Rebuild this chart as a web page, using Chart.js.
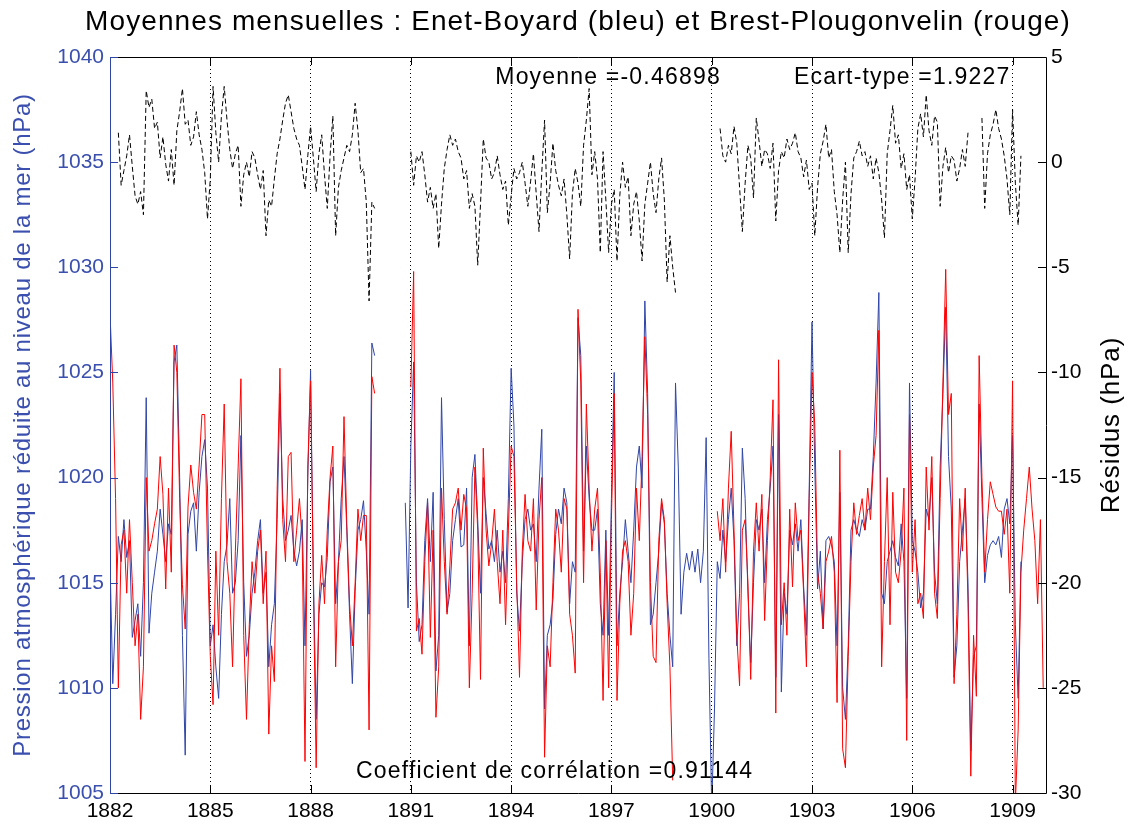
<html><head>
<title>Moyennes mensuelles Enet-Boyard / Brest-Plougonvelin</title>
<style>
  body { margin: 0; background: #fff; }
  #wrap { width: 1133px; height: 830px; }
</style>
<script src="https://cdn.jsdelivr.net/npm/chart.js"></script>
</head>
<body>
<div id="wrap"><canvas id="chart" width="1133" height="830"></canvas></div>
<script>
// monthly values, Jan 1882 .. Dec 1909 (12 per line), null = missing
const firstYear = 1882;
const xTicks = [1882, 1885, 1888, 1891, 1894, 1897, 1900, 1903, 1906, 1909];
const leftTicks = [1005, 1010, 1015, 1020, 1025, 1030, 1035, 1040];
const rightTicks = [-30, -25, -20, -15, -10, -5, 0, 5];

const N = null;
// Enet-Boyard (bleu), hPa
const enetBoyard = [
  1016.0, 1010.2, 1013.5, 1017.2, 1016.0, 1018.0, 1016.2, 1017.0, 1012.4, 1013.2, 1014.0, 1011.5,
  1015.0, 1023.8, 1012.6, 1014.5, 1015.5, 1016.5, 1018.5, 1017.3, 1016.0, 1017.8, 1017.3, 1025.5,
  1026.3, 1020.0, 1012.5, 1006.8, 1017.3, 1018.4, 1018.8, 1016.5, 1019.3, 1021.0, 1021.8, 1019.5,
  1012.0, 1013.0, 1011.0, 1009.5, 1013.5, 1016.0, 1016.8, 1019.0, 1014.5, 1015.0, 1017.0, 1022.0,
  1015.0, 1011.5, 1012.5, 1014.5, 1015.5, 1017.0, 1018.0, 1014.5, 1015.5, 1011.0, 1013.0, 1014.0,
  1018.0, 1024.0, 1019.0, 1017.0, 1017.5, 1018.2, 1016.5, 1015.8, 1016.5, 1018.0, 1012.0, 1020.0,
  1025.1, 1015.5, 1008.5, 1013.5, 1015.0, 1014.8, 1016.2, 1019.8, 1020.5, 1014.0, 1016.0, 1019.0,
  1021.0, 1017.5, 1013.5, 1010.2, 1014.6, 1017.5, 1018.0, 1018.9, 1016.5, 1013.5, 1026.4, 1025.8,
  N, N, N, N, N, N, N, N, N, N, 1018.8, 1013.8,
  1021.5, 1025.5, 1015.0, 1012.2, 1013.0, 1017.0, 1019.0, 1016.0, 1019.3, 1010.8, 1012.5, 1023.8,
  1018.0, 1013.6, 1014.5, 1017.0, 1018.0, 1019.0, 1016.7, 1016.8, 1019.5, 1012.0, 1020.0, 1021.1,
  1018.0, 1014.5, 1020.0, 1018.3, 1016.6, 1017.0, 1016.0, 1017.5, 1015.5, 1016.5, 1015.0, 1019.0,
  1025.2, 1022.5, 1014.5, 1012.7, 1016.0, 1018.0, 1018.5, 1017.5, 1017.8, 1016.0, 1019.5, 1022.3,
  1009.0, 1012.5, 1013.0, 1014.2, 1017.3, 1018.5, 1017.8, 1019.5, 1018.8, 1014.0, 1016.0, 1015.5,
  1027.6, 1025.8, 1016.5, 1021.5, 1019.0, 1017.5, 1017.5, 1018.5, 1014.0, 1012.5, 1017.5, 1012.5,
  1019.0, 1025.0, 1012.0, 1014.5, 1016.0, 1018.0, 1016.5, 1015.0, 1017.5, 1020.5, 1021.5, 1019.5,
  1028.4, 1024.0, 1013.0, 1013.5, 1015.0, 1016.5, 1018.8, 1017.8, 1014.5, 1012.5, 1011.0, 1024.5,
  1020.5, 1013.5, 1015.5, 1016.4, 1015.6, 1016.5, 1015.5, 1016.6, 1015.0, 1016.5, 1021.9, 1011.4,
  1004.3, 1009.0, 1016.0, 1015.2, 1017.5, 1016.0, 1018.0, 1019.5, 1017.0, 1012.0, 1014.5, 1021.4,
  1019.0, 1014.5, 1011.2, 1015.0, 1018.0, 1017.5, 1018.5, 1015.0, 1018.0, 1019.5, 1021.5, 1010.5,
  1023.0, 1009.8, 1014.5, 1013.5, 1017.5, 1016.8, 1017.8, 1016.5, 1018.0, 1014.8, 1012.5, 1019.5,
  1027.4, 1020.5, 1014.7, 1016.5, 1012.8, 1017.0, 1017.2, 1016.8, 1016.0, 1012.0, 1019.3, 1010.0,
  1008.5, 1012.0, 1017.5, 1018.0, 1017.5, 1017.2, 1018.0, 1017.5, 1018.5, 1018.5, 1021.0, 1024.5,
  1028.8, 1014.5, 1014.0, 1016.0, 1016.5, 1017.0, 1016.2, 1015.8, 1017.8, 1016.0, 1009.5, 1024.5,
  1017.0, 1016.5, 1015.5, 1013.8, 1014.5, 1018.5, 1018.0, 1020.0, 1015.5, 1014.0, 1020.5, 1024.0,
  1028.1, 1021.0, 1018.5, 1010.5, 1012.0, 1016.0, 1017.5, 1019.0, 1015.0, 1007.0, 1011.5, 1012.0,
  1023.5, 1019.0, 1015.0, 1016.3, 1016.8, 1017.0, 1016.8, 1017.2, 1016.2, 1018.5, 1019.0, 1017.8,
  1022.0, 1013.0, 1009.5, 1016.0, N, N, N, N, N, N, N, N
];

// Brest-Plougonvelin (rouge), hPa
const brest = [
  1027.8, 1024.5, 1019.0, 1010.0, 1016.8, 1017.5, 1014.5, 1018.0, 1015.0, 1012.0, 1013.5, 1008.5,
  1011.0, 1020.0, 1016.5, 1017.0, 1017.8, 1018.5, 1021.0, 1019.2, 1014.7, 1019.5, 1015.5, 1026.3,
  1025.0, 1019.0, 1014.9, 1012.8, 1018.6, 1020.6, 1019.3, 1018.5, 1020.6, 1023.0, 1023.0, 1016.5,
  1011.5, 1009.2, 1016.5, 1012.5, 1019.0, 1023.5, 1016.0, 1014.5, 1011.0, 1016.5, 1020.5, 1024.7,
  1012.5, 1008.5, 1013.0, 1016.0, 1014.5, 1016.5, 1017.5, 1014.0, 1016.5, 1007.8, 1012.0, 1010.3,
  1019.4, 1025.2, 1018.0, 1016.0, 1021.0, 1021.2, 1016.0, 1017.5, 1019.0, 1017.0, 1006.5, 1020.5,
  1024.6, 1015.0, 1006.2, 1014.0, 1016.3, 1014.0, 1017.5, 1020.0, 1021.5, 1011.0, 1016.0, 1017.0,
  1022.9, 1017.8, 1014.0, 1012.0, 1015.0, 1018.5, 1017.0, 1018.2, 1018.2, 1008.0, 1024.8, 1024.0,
  N, N, N, N, N, N, N, N, N, N, N, N,
  1024.3, 1029.8, 1012.7, 1013.3, 1011.6, 1016.0, 1018.8, 1012.4, 1017.5, 1008.6, 1011.0, 1019.5,
  1016.0, 1013.5, 1015.8, 1018.5, 1018.8, 1019.5, 1017.5, 1019.2, 1018.5, 1010.0, 1014.5, 1020.5,
  1017.5, 1010.4, 1021.4, 1017.5, 1015.8, 1016.9, 1018.5, 1016.0, 1014.0, 1017.5, 1013.0, 1017.5,
  1021.5, 1021.0, 1015.0, 1010.5, 1016.5, 1019.2, 1017.0, 1016.5, 1019.0, 1013.7, 1018.0, 1020.0,
  1006.7, 1012.0, 1011.0, 1015.0, 1018.5, 1017.5, 1015.5, 1019.0, 1018.5, 1013.5, 1012.5, 1010.7,
  1028.0, 1024.5, 1015.0, 1023.5, 1019.5, 1016.5, 1018.5, 1019.5, 1015.5, 1009.4, 1017.0, 1010.0,
  1018.0, 1024.0, 1009.4, 1014.0, 1016.5, 1017.0, 1016.0, 1012.5, 1014.5, 1019.5, 1017.0, 1021.0,
  1026.7, 1023.0, 1015.0, 1011.5, 1011.2, 1017.0, 1019.0, 1018.0, 1014.0, 1011.0, 1005.6, N,
  N, N, N, N, N, N, N, N, N, N, N, N,
  N, N, 1018.4, 1017.0, 1019.0, 1015.5, 1019.5, 1022.2, 1017.5, 1012.5, 1010.1, 1017.5,
  1018.0, 1015.0, 1010.4, 1016.5, 1018.8, 1016.5, 1019.2, 1013.2, 1017.0, 1020.0, 1023.7, 1008.8,
  1025.6, 1013.0, 1015.0, 1012.5, 1018.5, 1014.8, 1018.8, 1017.0, 1017.5, 1014.5, 1011.0, 1019.0,
  1025.0, 1022.5, 1015.5, 1014.5, 1012.8, 1016.0, 1016.5, 1017.2, 1015.5, 1009.3, 1021.3, 1007.1,
  1006.2, 1011.5, 1016.0, 1018.8, 1017.3, 1018.2, 1019.0, 1017.5, 1019.5, 1018.0, 1020.5, 1022.0,
  1027.0, 1011.0, 1016.0, 1020.0, 1013.0, 1019.3, 1015.5, 1015.0, 1016.5, 1019.5, 1007.5, 1023.0,
  1015.5, 1018.0, 1014.0, 1014.5, 1013.3, 1020.5, 1017.5, 1021.0, 1014.5, 1013.3, 1019.0, 1024.5,
  1029.9, 1023.0, 1024.0, 1010.2, 1013.5, 1019.0, 1016.5, 1019.5, 1014.0, 1005.8, 1012.5, 1009.6,
  1025.8, 1020.0, 1015.5, 1018.0, 1019.8, 1019.2, 1018.6, 1018.4, 1018.4, 1017.3, 1018.5, 1014.5,
  1024.6, 1004.5, 1008.0, 1015.5, 1017.5, 1019.0, 1020.5, 1018.5, 1017.0, 1014.0, 1018.0, 1010.0
];

// residus (noir, tirets), hPa, axe de droite
const residus = [
  N, N, N, 1.4, -1.1, -0.4, 0.3, 1.3, -0.2, -1.6, -2.0, -1.4,
  -2.5, 3.4, 2.6, 3.0, 1.6, 1.9, 0.2, 1.2, -0.1, -0.9, 0.6, -1.1,
  1.5, 2.4, 3.5, 1.8, 2.0, 0.8, 1.2, 2.4, 1.3, 0.6, -0.5, -2.7,
  -0.8, 3.6, 1.4, 0.0, 2.2, 3.6, 2.0, 0.6, -0.3, 0.4, 0.8, -2.1,
  -0.6, 0.0, -0.7, 0.5, 0.2, -0.6, -1.3, -0.4, -3.5, -1.8, -2.1, -0.8,
  0.4, 1.1, 2.0, 2.8, 3.2, 2.4, 1.6, 1.1, 0.8, -0.2, -1.3, 0.3,
  1.7, 0.2, -1.4, 0.4, 1.3, -0.6, -2.2, 0.3, 2.2, -3.5, -1.2, -0.4,
  0.2, 0.8, 0.5, 1.3, 2.8, 1.5, -0.5, -0.3, -1.9, -6.6, -1.9, -2.2,
  N, N, N, N, N, N, N, N, N, N, N, N,
  0.5, -1.1, 0.3, 0.0, 0.5, -0.6, -1.9, -1.2, -2.2, -1.5, -4.1, -2.0,
  -0.3, 0.6, 1.3, 0.8, 1.1, 0.5, 0.2, -0.8, -0.4, -2.2, -1.5, -2.1,
  -4.9, -2.0, 1.1, 0.2, 0.0, -0.8, -0.5, 0.3, -0.6, -1.3, -0.9, -3.0,
  -1.6, -0.3, -0.8, -0.5, 0.0, -1.0, -2.1, -0.9, 0.4, -1.5, -3.3, -0.5,
  2.0, -2.4, -1.0, 0.9, -0.4, -1.1, -1.6, -0.8, -2.5, -4.6, -1.5, -0.3,
  -1.0, -2.1, 0.8, 2.0, 3.5, -0.6, 0.5, -0.8, -4.3, 0.5, -1.8, -4.3,
  -2.0, -1.3, -4.7, -1.6, 0.0, -1.2, -0.7, -3.5, -2.0, -1.4, -2.8, -4.7,
  -2.0, -1.0, 0.0, -1.5, -2.4, -0.8, 0.2, -1.8, -5.7, -3.5, -5.0, -6.2,
  N, N, N, N, N, N, N, N, N, N, N, N,
  N, N, N, 1.6, 0.3, 0.0, 0.8, 0.4, 1.7, 0.9, -1.2, -3.3,
  -1.0, 0.8, 0.2, -1.7, 2.1, 1.0, -0.2, 0.6, 0.4, -0.3, 0.9, -2.8,
  -0.4, 0.5, 0.2, 1.1, 0.6, 0.9, 1.4, 0.5, 0.2, -0.7, 0.1, -1.3,
  -1.0, -3.5, -1.2, 0.4, 1.0, 1.8, 0.2, 0.6, -1.4, -2.5, -4.3, -1.8,
  0.0, -4.3, -1.5, 0.2, 0.5, 1.0, 0.3, 0.5, -0.2, 0.3, -0.8, 0.2,
  -0.5, -1.8, -3.6, 0.4, 1.5, 2.7, 0.9, 1.3, -0.3, 0.4, -1.3, -0.6,
  -2.7, -0.8, 1.6, 2.3, 1.2, 3.2, 1.5, 0.8, 2.2, 1.9, -2.1, -0.2,
  0.7, -0.5, 0.3, 0.1, -0.9, -0.3, 0.6, -0.2, 1.4, N, N, N,
  N, 2.1, -2.2, 0.4, 1.3, 1.8, 2.5, 1.6, 1.1, 0.3, -0.8, -2.5,
  2.5, -1.0, -3.0, 0.3, N, N, N, N, N, N, N, N
];

const titleText = 'Moyennes mensuelles : Enet-Boyard (bleu) et Brest-Plougonvelin (rouge)';
const leftTitle = 'Pression atmosphérique réduite au niveau de la mer (hPa)';
const rightTitle = 'Résidus (hPa)';
// statistics printed inside the plot, placed in data coordinates
const notes = [
  { text: 'Moyenne =-0.46898', x: 1896.9, y: 4.0, axis: 'y2' },
  { text: 'Ecart-type =1.9227', x: 1905.7, y: 4.0, axis: 'y2' },
  { text: 'Coefficient de corrélation =0.91144', x: 1895.3, y: 1006.0, axis: 'y' }
];

const BLUE = '#2f45a8';
const BLUE_TEXT = '#3a4fae';
const FONT = '"Liberation Sans", Arial, Helvetica, sans-serif';

function monthly(values) {
  return values.map((v, i) => ({ x: firstYear + i / 12, y: v }));
}

function spaced(ctx, px) {
  if ('letterSpacing' in ctx) ctx.letterSpacing = px + 'px';
}

// frame, inward ticks, titles and the printed statistics
const decorations = {
  id: 'decorations',
  afterDraw(chart) {
    const { ctx, chartArea: a, scales } = chart;
    const tick = 8;
    ctx.save();

    ctx.lineWidth = 1;
    ctx.strokeStyle = '#000';
    ctx.beginPath();
    ctx.moveTo(a.left, a.top + 0.5); ctx.lineTo(a.right + 0.5, a.top + 0.5);
    ctx.lineTo(a.right + 0.5, a.bottom + 0.5); ctx.lineTo(a.left, a.bottom + 0.5);
    xTicks.forEach(v => {
      const x = Math.round(scales.x.getPixelForValue(v)) + 0.5;
      ctx.moveTo(x, a.bottom); ctx.lineTo(x, a.bottom - tick);
      ctx.moveTo(x, a.top); ctx.lineTo(x, a.top + tick);
    });
    rightTicks.forEach(v => {
      const y = Math.round(scales.y2.getPixelForValue(v)) + 0.5;
      ctx.moveTo(a.right, y); ctx.lineTo(a.right - tick, y);
    });
    ctx.stroke();

    ctx.strokeStyle = BLUE;
    ctx.beginPath();
    ctx.moveTo(a.left + 0.5, a.top); ctx.lineTo(a.left + 0.5, a.bottom);
    leftTicks.forEach(v => {
      const y = Math.round(scales.y.getPixelForValue(v)) + 0.5;
      ctx.moveTo(a.left, y); ctx.lineTo(a.left + tick, y);
    });
    ctx.stroke();

    ctx.textAlign = 'center';
    ctx.textBaseline = 'middle';
    ctx.fillStyle = '#000';
    ctx.font = '28px ' + FONT;
    spaced(ctx, 1.1);
    ctx.fillText(titleText, (a.left + a.right) / 2, 22);

    ctx.font = '23px ' + FONT;
    spaced(ctx, 1.2);
    notes.forEach(n => {
      ctx.fillText(n.text, scales.x.getPixelForValue(n.x), scales[n.axis].getPixelForValue(n.y));
    });

    const midY = (a.top + a.bottom) / 2;
    ctx.font = '26px ' + FONT;
    spaced(ctx, 0.9);
    ctx.save();
    ctx.translate(1112, midY);
    ctx.rotate(-Math.PI / 2);
    ctx.fillText(rightTitle, 0, 0);
    ctx.restore();

    ctx.font = '24px ' + FONT;
    spaced(ctx, 0.75);
    ctx.save();
    ctx.fillStyle = BLUE_TEXT;
    ctx.translate(23, midY);
    ctx.rotate(-Math.PI / 2);
    ctx.fillText(leftTitle, 0, 0);
    ctx.restore();

    ctx.restore();
  }
};

Chart.defaults.font.family = FONT;

new Chart(document.getElementById('chart'), {
  type: 'line',
  data: {
    datasets: [
      {
        label: 'Brest-Plougonvelin',
        data: monthly(brest),
        borderColor: '#ff0000',
        borderWidth: 1,
        yAxisID: 'y',
        order: 0
      },
      {
        label: 'Enet-Boyard',
        data: monthly(enetBoyard),
        borderColor: BLUE,
        borderWidth: 1,
        yAxisID: 'y',
        order: 1
      },
      {
        label: 'Résidus',
        data: monthly(residus),
        borderColor: '#000',
        borderWidth: 1,
        borderDash: [5, 3],
        yAxisID: 'y2',
        order: 2
      }
    ]
  },
  options: {
    responsive: false,
    animation: false,
    devicePixelRatio: 1,
    spanGaps: false,
    elements: { point: { radius: 0 }, line: { tension: 0 } },
    layout: { padding: { top: 57, left: 0, right: 0, bottom: 0 } },
    plugins: { legend: { display: false }, tooltip: { enabled: false }, title: { display: false } },
    scales: {
      x: {
        type: 'linear',
        min: 1882,
        max: 1910,
        afterBuildTicks: s => { s.ticks = xTicks.map(v => ({ value: v })); },
        afterFit: s => { s.height = 37; },
        ticks: { color: '#000', font: { size: 21 }, padding: 6, maxRotation: 0, callback: v => String(v) },
        grid: { display: true, drawTicks: false, color: '#000', lineWidth: 1 },
        border: { display: false, dash: [1, 3] }
      },
      y: {
        position: 'left',
        min: 1005,
        max: 1040,
        afterBuildTicks: s => { s.ticks = leftTicks.map(v => ({ value: v })); },
        afterFit: s => { s.width = 110; },
        ticks: { color: BLUE_TEXT, font: { size: 21 }, padding: 6, callback: v => String(v) },
        grid: { display: false, drawTicks: false },
        border: { display: false }
      },
      y2: {
        position: 'right',
        min: -30,
        max: 5,
        afterBuildTicks: s => { s.ticks = rightTicks.map(v => ({ value: v })); },
        afterFit: s => { s.width = 87; },
        ticks: { color: '#000', font: { size: 21 }, padding: 5, callback: v => String(v) },
        grid: { display: false, drawTicks: false },
        border: { display: false }
      }
    }
  },
  plugins: [decorations]
});
</script>
</body></html>
